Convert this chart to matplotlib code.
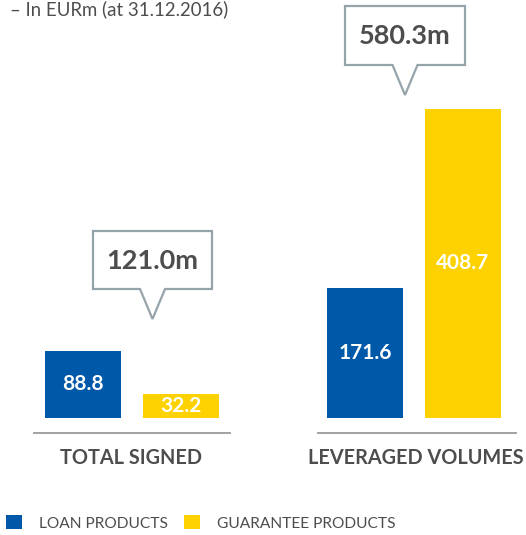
import numpy as np
import matplotlib.pyplot as plt
from matplotlib.patches import Polygon

plt.rcParams['font.family'] = ['Lato', 'DejaVu Sans']

# data (EURm, at 31.12.2016)
gruppen = ["TOTAL SIGNED", "LEVERAGED VOLUMES"]
serien = ["LOAN PRODUCTS", "GUARANTEE PRODUCTS"]
loan = [88.8, 171.6]
guarantee = [32.2, 408.7]
titel = "– In EURm (at 31.12.2016)"

blau = "#0059A8"
gelb = "#FDD200"
grau_text = "#4D4D4D"
grau_linie = "#9A9A9A"
grau_box = "#97A3AB"

W, H = 526, 535
fig = plt.figure(figsize=(W / 100, H / 100), dpi=100)

# main axes: y=0 sits at pixel row 418, 0.757 px per EURm
px_per_unit = 0.757
ax = fig.add_axes([0, 117 / H, 1, 418 / H])
ax.set_xlim(0, W)
ax.set_ylim(0, 418 / px_per_unit)
ax.axis("off")

mitte = np.array([132, 414])
versatz = 49
breite = 76
b1 = ax.bar(mitte - versatz, loan, width=breite, color=blau, label=serien[0])
b2 = ax.bar(mitte + versatz, guarantee, width=breite, color=gelb, label=serien[1])

for bars, werte in [(b1, loan), (b2, guarantee)]:
    for r, v in zip(bars, werte):
        ax.text(r.get_x() + r.get_width() / 2, v / 2, f"{v:.1f}",
                ha="center", va="center", color="white",
                fontsize=15, fontweight="bold")

# overlay in pixel coordinates for the decoration
deco = fig.add_axes([0, 0, 1, 1], zorder=-1)
deco.set_xlim(0, W)
deco.set_ylim(H, 0)
deco.axis("off")

# title sits at the very top edge (cut off in the original), kept fully visible
deco.text(10, 15, titel, ha="left", va="baseline", fontsize=13.4, color=grau_text)

linien = [(34, 230), (318, 516)]
for (x0, x1), name, xm in zip(linien, gruppen, [131, 416]):
    deco.plot([x0, x1], [433, 433], color=grau_linie, lw=1.3)
    deco.text(xm, 458, name, ha="center", va="center", fontsize=14.3,
              fontweight="bold", color=grau_text)

# callout boxes with totals
boxen = [(93, 212, 231, 289, 319), (345, 465, 6, 65, 95)]
for (x0, x1, y0, y1, spitze), a, b in zip(boxen, loan, guarantee):
    xm = (x0 + x1) / 2
    pts = [(x0, y0), (x1, y0), (x1, y1), (xm + 12.5, y1), (xm, spitze),
           (xm - 12.5, y1), (x0, y1)]
    deco.add_patch(Polygon(pts, closed=True, facecolor="white",
                           edgecolor=grau_box, lw=1.6))
    deco.text(xm, (y0 + y1) / 2 + 1, f"{a + b:.1f}m", ha="center", va="center",
              fontsize=19.5, fontweight="bold", color=grau_text)

leg = ax.legend(handles=[b1, b2], loc="center left",
                bbox_to_anchor=(0.0, 1 - 523 / H), bbox_transform=fig.transFigure,
                ncol=2, frameon=False, fontsize=11.2, handlelength=1.0,
                handleheight=1.0, handletextpad=1.1, columnspacing=1.05,
                borderpad=0, borderaxespad=0.4)
for t in leg.get_texts():
    t.set_color(grau_text)

fig.savefig("out.png", dpi=100)
